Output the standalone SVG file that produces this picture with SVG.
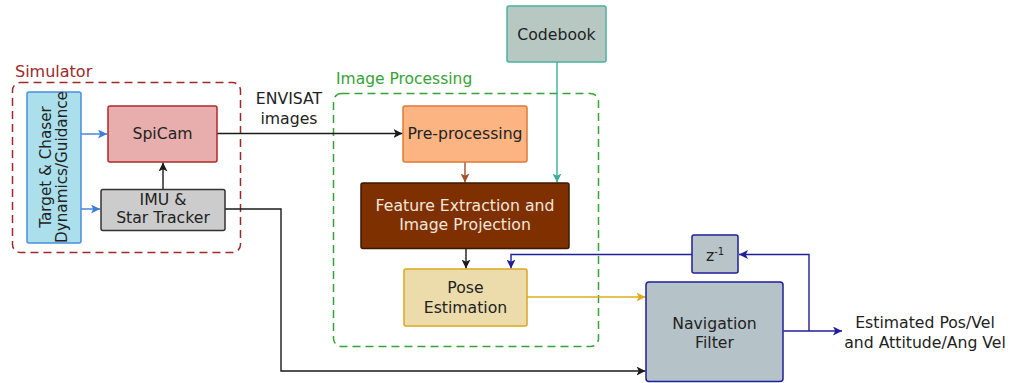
<svg xmlns="http://www.w3.org/2000/svg" width="1010" height="383" viewBox="0 0 1010 383">
  <style>
    text { font-family: "DejaVu Sans", Verdana, sans-serif; font-size: 15.7px; fill: #222222; }
    .c { text-anchor: middle; }
    .box { stroke-width: 1.5; }
    .ln { fill: none; stroke-width: 1.4; }
  </style>
  <defs>
    <marker id="aBlack" viewBox="0 0 10 10" refX="10" refY="5" markerWidth="9" markerHeight="9" markerUnits="userSpaceOnUse" orient="auto">
      <path d="M0,0 L10,5 L0,10 L2.5,5 z" fill="#1a1a1a"/>
    </marker>
    <marker id="aBlue" viewBox="0 0 10 10" refX="10" refY="5" markerWidth="9" markerHeight="9" markerUnits="userSpaceOnUse" orient="auto">
      <path d="M0,0 L10,5 L0,10 L2.5,5 z" fill="#3b7dd8"/>
    </marker>
    <marker id="aBrown" viewBox="0 0 10 10" refX="10" refY="5" markerWidth="9" markerHeight="9" markerUnits="userSpaceOnUse" orient="auto">
      <path d="M0,0 L10,5 L0,10 L2.5,5 z" fill="#a0522d"/>
    </marker>
    <marker id="aTeal" viewBox="0 0 10 10" refX="10" refY="5" markerWidth="9" markerHeight="9" markerUnits="userSpaceOnUse" orient="auto">
      <path d="M0,0 L10,5 L0,10 L2.5,5 z" fill="#3aae98"/>
    </marker>
    <marker id="aGold" viewBox="0 0 10 10" refX="10" refY="5" markerWidth="9" markerHeight="9" markerUnits="userSpaceOnUse" orient="auto">
      <path d="M0,0 L10,5 L0,10 L2.5,5 z" fill="#dcac1e"/>
    </marker>
    <marker id="aNavy" viewBox="0 0 10 10" refX="10" refY="5" markerWidth="9" markerHeight="9" markerUnits="userSpaceOnUse" orient="auto">
      <path d="M0,0 L10,5 L0,10 L2.5,5 z" fill="#1f1f99"/>
    </marker>
  </defs>

  <!-- group frames -->
  <g id="simulator-group">
    <rect x="12.5" y="82.5" width="228" height="170" rx="8" fill="none" stroke="#9b2a2a" stroke-width="1.5" stroke-dasharray="8 5"/>
    <text x="15" y="77" style="font-size:16px;fill:#9b2a2a">Simulator</text>
  </g>
  <g id="image-processing-group">
    <rect x="333.5" y="93.5" width="265" height="253" rx="8" fill="none" stroke="#36a336" stroke-width="1.5" stroke-dasharray="8 5"/>
    <text x="336" y="84" style="font-size:15.5px;fill:#36a336">Image Processing</text>
  </g>

  <!-- connectors -->
  <g id="connectors">
    <line class="ln" x1="81" y1="134" x2="107" y2="134" stroke="#3b7dd8" marker-end="url(#aBlue)"/>
    <line class="ln" x1="81" y1="209" x2="100" y2="209" stroke="#3b7dd8" marker-end="url(#aBlue)"/>
    <line class="ln" x1="163" y1="189" x2="163" y2="162.5" stroke="#1a1a1a" marker-end="url(#aBlack)"/>
    <line class="ln" x1="217" y1="133.5" x2="402.5" y2="133.5" stroke="#1a1a1a" marker-end="url(#aBlack)"/>
    <polyline class="ln" points="225,209 281,209 281,371 645.5,371" stroke="#1a1a1a" marker-end="url(#aBlack)"/>
    <line class="ln" x1="465" y1="162" x2="465" y2="182.5" stroke="#a0522d" marker-end="url(#aBrown)"/>
    <line class="ln" x1="557" y1="62" x2="557" y2="182.5" stroke="#3aae98" marker-end="url(#aTeal)"/>
    <line class="ln" x1="466" y1="248.5" x2="466" y2="268.5" stroke="#1a1a1a" marker-end="url(#aBlack)"/>
    <line class="ln" x1="527" y1="297" x2="645.5" y2="297" stroke="#dcac1e" marker-end="url(#aGold)"/>
    <polyline class="ln" points="692,254.5 511,254.5 511,268.5" stroke="#1f1f99" marker-end="url(#aNavy)"/>
    <line class="ln" x1="783.5" y1="331" x2="842" y2="331" stroke="#1f1f99" marker-end="url(#aNavy)"/>
    <polyline class="ln" points="809,331 809,254.5 739,254.5" stroke="#1f1f99" marker-end="url(#aNavy)"/>
  </g>

  <!-- nodes -->
  <g id="target-chaser">
    <rect class="box" x="27" y="92" width="54" height="151" rx="2" fill="#acdfec" stroke="#4a8fdb"/>
    <g transform="translate(50.5,167) rotate(-90)" style="font-size:15.2px">
      <text class="c" x="0" y="0" style="font-size:15.2px">Target &amp; Chaser</text>
      <text class="c" x="0" y="16.5" style="font-size:15.2px">Dynamics/Guidance</text>
    </g>
  </g>
  <g id="spicam">
    <rect class="box" x="108" y="106" width="109" height="56" rx="2" fill="#e8aeae" stroke="#ad2b2b"/>
    <text class="c" x="162.5" y="138.5">SpiCam</text>
  </g>
  <g id="imu-star-tracker">
    <rect class="box" x="101" y="189.5" width="124" height="41" rx="2" fill="#cccccc" stroke="#333333"/>
    <text class="c" x="163" y="204.5">IMU &amp;</text>
    <text class="c" x="163" y="222.5">Star Tracker</text>
  </g>
  <g id="codebook">
    <rect class="box" x="507" y="6" width="99" height="56" rx="2" fill="#b7c8c3" stroke="#4ab0a0"/>
    <text class="c" x="556.5" y="40">Codebook</text>
  </g>
  <g id="pre-processing">
    <rect class="box" x="403" y="106" width="124" height="56" rx="2" fill="#fdb483" stroke="#de7a36"/>
    <text class="c" x="465" y="138.5">Pre-processing</text>
  </g>
  <g id="feature-extraction">
    <rect class="box" x="361" y="183" width="208" height="65.5" rx="2" fill="#7f3000" stroke="#3a1800"/>
    <text class="c" x="465" y="210.5" style="fill:#f2e6dc">Feature Extraction and</text>
    <text class="c" x="465" y="230" style="fill:#f2e6dc">Image Projection</text>
  </g>
  <g id="pose-estimation">
    <rect class="box" x="404" y="269" width="123" height="57" rx="2" fill="#ecdcab" stroke="#d9a820"/>
    <text class="c" x="465.5" y="293">Pose</text>
    <text class="c" x="465.5" y="313">Estimation</text>
  </g>
  <g id="delay">
    <rect class="box" x="692" y="235" width="46" height="38" rx="2" fill="#b8c4c8" stroke="#1f1f99"/>
    <text class="c" x="715" y="261">z<tspan dy="-6" style="font-size:10px">-1</tspan></text>
  </g>
  <g id="navigation-filter">
    <rect class="box" x="646" y="282" width="137" height="99.5" rx="3" fill="#b5c3c8" stroke="#1f1f99"/>
    <text class="c" x="714.5" y="328.5">Navigation</text>
    <text class="c" x="714.5" y="348">Filter</text>
  </g>

  <!-- free labels -->
  <g id="labels">
    <text class="c" x="289" y="104">ENVISAT</text>
    <text class="c" x="289" y="124">images</text>
    <text class="c" x="925" y="328">Estimated Pos/Vel</text>
    <text class="c" x="925" y="348">and Attitude/Ang Vel</text>
  </g>
</svg>
